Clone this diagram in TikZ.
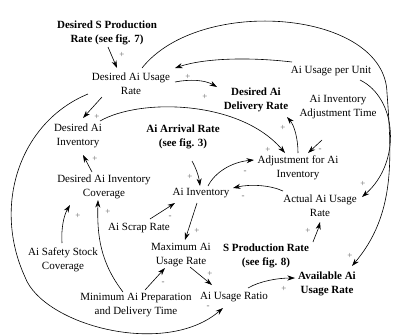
\documentclass[tikz,border=0pt]{standalone}
\usepackage{fontspec}
\setmainfont{Liberation Serif}
\usetikzlibrary{arrows.meta}
\begin{document}
\begin{tikzpicture}[x=1pt,y=-1pt,
  var/.style={align=center,inner sep=0pt,font=\fontsize{11}{14}\selectfont},
  bvar/.style={align=center,inner sep=0pt,font=\fontsize{11}{14}\selectfont\bfseries},
  arr/.style={-{Stealth[length=7.5pt,width=5pt]},line width=0.6pt},
  pol/.style={font=\fontsize{9}{9}\selectfont,text=black!60,inner sep=0pt}]
\useasboundingbox (0,0) rectangle (393,335);

% variables
\node[bvar] (DSPR) at (107,32.5) {Desired S Production\\Rate (see fig. 7)};
\node[var]  (DAUR) at (131,83.5) {Desired Ai Usage\\Rate};
\node[var]  (AUPU) at (331,71) {Ai Usage per Unit};
\node[bvar] (DADR) at (256,100) {Desired Ai\\Delivery Rate};
\node[var]  (AIAT) at (338,107.5) {Ai Inventory\\Adjustment Time};
\node[var]  (DAI)  at (78,136) {Desired Ai\\Inventory};
\node[bvar] (AAR)  at (183,137) {Ai Arrival Rate\\(see fig. 3)};
\node[var]  (ADJ)  at (298,168) {Adjustment for Ai\\Inventory};
\node[var]  (DAIC) at (104,187) {Desired Ai Inventory\\Coverage};
\node[var]  (AI)   at (201,193) {Ai Inventory};
\node[var]  (AAUR) at (320,206) {Actual Ai Usage\\Rate};
\node[var]  (ASR)  at (139,228) {Ai Scrap Rate};
\node[var]  (MAUR) at (181,255) {Maximum Ai\\Usage Rate};
\node[bvar] (SPR)  at (266,256) {S Production Rate\\(see fig. 8)};
\node[var]  (ASSC) at (63,259.5) {Ai Safety Stock\\Coverage};
\node[var]  (AUR)  at (234,297) {Ai Usage Ratio};
\node[bvar] (AvAUR) at (327,284) {Available Ai\\Usage Rate};
\node[var]  (MAPDT) at (136,305.5) {Minimum Ai Preparation\\and Delivery Time};

% connectors
\draw[arr] ([shift={(1,14.5)}]DSPR.center) -- ([shift={(-14,-15.5)}]DAUR.center);
\draw[arr] ([shift={(-39,-9)}]AUPU.center) .. controls +(-42,-5) and +(30,-10) .. ([shift={(44,-15.5)}]DAUR.center);
\draw[arr] ([shift={(44,-1.5)}]DAUR.center) .. controls +(15,-3) and +(-12,-7) .. ([shift={(-39,-13)}]DADR.center);
\draw[arr] ([shift={(-29,13.5)}]DAUR.center) -- ([shift={(5,-18)}]DAI.center);
\draw[arr] ([shift={(-43,10.5)}]DAUR.center) .. controls +(-68,28) and +(-33,-72) .. (25,277)
   .. controls +(18,48) and +(-58,50) .. ([shift={(-11,11)}]AUR.center);
\draw[arr] ([shift={(22,-15)}]DAI.center) .. controls +(40,-23) and +(-45,-53) .. ([shift={(-13,-15)}]ADJ.center);
\draw[arr] ([shift={(-12,-15)}]DAIC.center) -- ([shift={(5,19)}]DAI.center);
\draw[arr] ([shift={(-1,-16.5)}]ASSC.center) .. controls +(-1,-15) and +(-6,10) .. ([shift={(-34,18)}]DAIC.center);
\draw[arr] ([shift={(-13,-13.5)}]MAPDT.center) .. controls +(-23,-30) and +(-1,35) .. ([shift={(-6,13)}]DAIC.center);
\draw[arr] ([shift={(9,24)}]AAR.center) .. controls +(5,9) and +(-1,-8) .. ([shift={(-1,-7)}]AI.center);
\draw[arr] ([shift={(11,-9)}]ASR.center) -- ([shift={(-26,10)}]AI.center);
\draw[arr] ([shift={(-4,10)}]AI.center) -- ([shift={(4,-15)}]MAUR.center);
\draw[arr] ([shift={(7,-7)}]AI.center) .. controls +(7,-14) and +(-22,2) .. ([shift={(-44,-8)}]ADJ.center);
\draw[arr] ([shift={(-37,-15)}]AAUR.center) .. controls +(-13,-6) and +(17,-4) .. ([shift={(32,-5)}]AI.center);
\draw[arr] ([shift={(0,-15)}]ADJ.center) .. controls +(0,-15) and +(7,8) .. ([shift={(31,17)}]DADR.center);
\draw[arr] ([shift={(-16,32.5)}]AIAT.center) -- ([shift={(10,-15)}]ADJ.center);
\draw[arr] ([shift={(29,9)}]AUPU.center) .. controls +(37,18) and +(40,-35) .. ([shift={(42,-9)}]AAUR.center);
\draw[arr] ([shift={(11,-15.5)}]DAUR.center) .. controls +(58,-73) and +(-2,-83) .. (387,93)
   .. controls +(5,67) and +(43,-51) .. ([shift={(25,-18)}]AvAUR.center);
\draw[arr] ([shift={(47,-14)}]SPR.center) .. controls +(3,-8) and +(-2,8) .. ([shift={(0,16)}]AAUR.center);
\draw[arr] ([shift={(9,12)}]MAUR.center) -- ([shift={(-22,-12)}]AUR.center);
\draw[arr] ([shift={(9,-15.5)}]MAPDT.center) -- ([shift={(-16,13)}]MAUR.center);
\draw[arr] ([shift={(14,-9)}]AUR.center) .. controls +(12,-7) and +(-17,0) .. ([shift={(-32,-6)}]AvAUR.center);

% polarities
\node[pol] (p1) at (122,55) {+};
\node[pol] (p2) at (188,77) {+};
\node[pol] (p3) at (205,97) {+};
\node[pol] (p4) at (97,117) {+};
\node[pol] (p5) at (268,150) {+};
\node[pol] (p6) at (95,159) {+};
\node[pol] (p7) at (78,216) {+};
\node[pol] (p8) at (108,212) {+};
\node[pol] (p9) at (190,177) {+};
\node[pol] (p10) at (170,217) {-};
\node[pol] (p11) at (197,231) {+};
\node[pol] (p12) at (245,172) {-};
\node[pol] (p13) at (243,197) {-};
\node[pol] (p14) at (283,128) {+};
\node[pol] (p15) at (320,150) {-};
\node[pol] (p16) at (363,184) {+};
\node[pol] (p17) at (350,256) {+};
\node[pol] (p18) at (308,231) {+};
\node[pol] (p19) at (210,274) {+};
\node[pol] (p20) at (163,283) {-};
\node[pol] (p21) at (284,289) {+};
\node[pol] (p22) at (208,307) {-};
\end{tikzpicture}
\end{document}
